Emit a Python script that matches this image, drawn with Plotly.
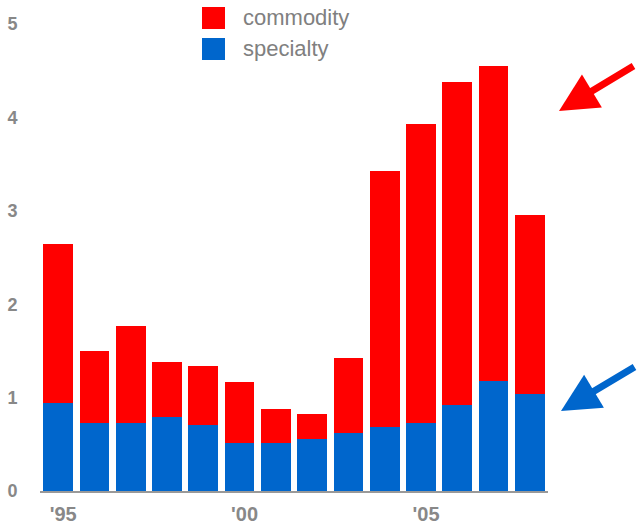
import plotly.graph_objects as go

years = [1995, 1996, 1997, 1998, 1999, 2000, 2001, 2002, 2003, 2004, 2005, 2006, 2007, 2008]
specialty = [0.94, 0.73, 0.73, 0.79, 0.71, 0.51, 0.51, 0.56, 0.62, 0.69, 0.73, 0.92, 1.18, 1.04]
total = [2.64, 1.50, 1.77, 1.38, 1.34, 1.17, 0.88, 0.82, 1.42, 3.43, 3.93, 4.38, 4.55, 2.96]
commodity = [round(t - s, 2) for t, s in zip(total, specialty)]
tick_years = [1995, 2000, 2005]
tick_labels = ["'95", "'00", "'05"]
y_ticks = [0, 1, 2, 3, 4, 5]

RED = "#ff0000"
BLUE = "#0066cc"

fig = go.Figure()
fig.add_trace(go.Bar(x=years, y=specialty, name="specialty", marker_color=BLUE,
                     marker_line_width=0, showlegend=False))
fig.add_trace(go.Bar(x=years, y=commodity, name="commodity", marker_color=RED,
                     marker_line_width=0, showlegend=False))

L, R, T, B = 40, 90, 24, 37
W, H = 638, 528
pw, ph = W - L - R, H - T - B

def px(x):
    return (x - L) / pw

def py(y):
    return (H - B - y) / ph

shapes = []
annotations = []
legend_items = [("commodity", RED, 7), ("specialty", BLUE, 38)]
for label, col, top in legend_items:
    shapes.append(dict(type="rect", xref="paper", yref="paper",
                       x0=px(202), x1=px(225), y0=py(top + 22), y1=py(top),
                       fillcolor=col, line_width=0))
    annotations.append(dict(xref="paper", yref="paper", x=px(241), y=py(top + 11),
                            xanchor="left", yanchor="middle", text=label, showarrow=False,
                            font=dict(size=22, color="#808080", family="Liberation Sans, Arial")))

for col, tip, tail in [(RED, (559, 111), (635, 65)), (BLUE, (561, 411), (636, 366))]:
    annotations.append(dict(xref="paper", yref="paper", x=px(tip[0]), y=py(tip[1]),
                            ax=tail[0] - tip[0], ay=tail[1] - tip[1], text="",
                            showarrow=True, arrowhead=2, arrowsize=1.1, arrowwidth=7,
                            arrowcolor=col, standoff=0))

fig.update_layout(
    template="none",
    barmode="stack",
    bargap=0.18,
    width=W, height=H,
    margin=dict(l=L, r=R, t=T, b=B, pad=0),
    plot_bgcolor="white", paper_bgcolor="white",
    font=dict(family="Liberation Sans, Arial", color="#888888"),
    shapes=shapes,
    annotations=annotations,
    xaxis=dict(range=[1994.5, 2008.5], tickvals=tick_years, ticktext=tick_labels,
               automargin=False, ticklabelshift=5,
               showgrid=False, showline=True, linecolor="#999999", linewidth=2,
               ticks="outside", ticklen=4, tickcolor="rgba(0,0,0,0)",
               tickfont=dict(size=20, color="#888888", family="Liberation Sans, Arial", weight="bold"),
               zeroline=False),
    yaxis=dict(range=[0, 5], tickvals=y_ticks, showgrid=False, zeroline=False,
               automargin=False,
               showline=False, ticks="outside", ticklen=18, tickcolor="rgba(0,0,0,0)",
               tickfont=dict(size=18, color="#888888", family="Liberation Sans, Arial", weight="bold")),
)

fig.write_html("out.html", config={"displayModeBar": False},
               post_script="document.body.style.margin='0';document.body.style.padding='0';")
